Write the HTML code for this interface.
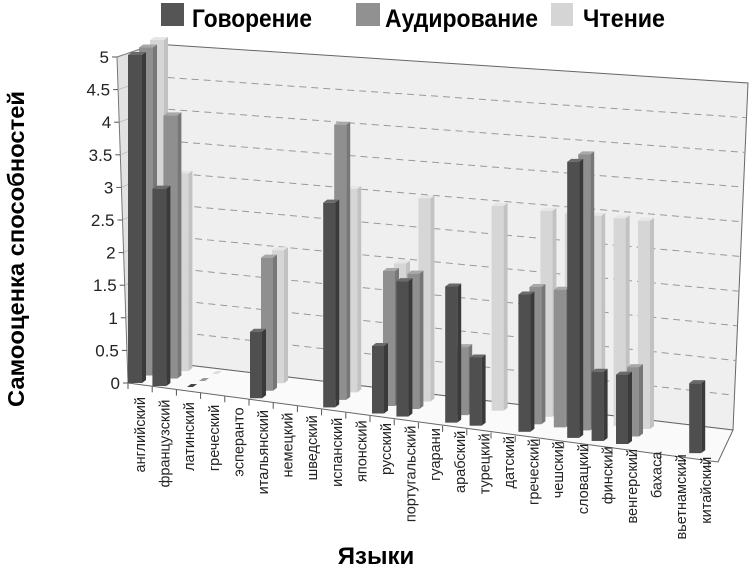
<!DOCTYPE html>
<html><head><meta charset="utf-8"><style>
html,body{margin:0;padding:0;background:#fff;}
svg{display:block;font-family:"Liberation Sans",sans-serif;}
</style></head><body>
<svg id="s" width="749" height="570" viewBox="0 0 749 570" xmlns="http://www.w3.org/2000/svg">
<polygon points="117,57 155,44 162,362 128,383" fill="#e2e2e2" stroke="#777" stroke-width="1"/>
<polygon points="155,44 748,83 733,430 162,362" fill="#efefef" stroke="#666" stroke-width="1"/>
<polygon points="128,383 162,362 733,430 718,462" fill="#fafafa" stroke="#666" stroke-width="1"/>
<g id="grid"></g>
<g id="bars"></g>
<g id="labels" font-size="14.5" fill="#222"></g>
<rect x="161" y="3" width="23" height="23" fill="#555"/>
<text x="192" y="27" font-size="25" font-weight="bold" font-family="'Liberation Sans Narrow','Liberation Sans',sans-serif" textLength="120" lengthAdjust="spacingAndGlyphs">Говорение</text>
<rect x="356" y="3" width="24" height="23" fill="#919191"/>
<text x="385" y="27" font-size="25" font-weight="bold" font-family="'Liberation Sans Narrow','Liberation Sans',sans-serif" textLength="153" lengthAdjust="spacingAndGlyphs">Аудирование</text>
<rect x="551" y="3" width="22" height="23" fill="#d5d5d5"/>
<text x="583" y="27" font-size="25" font-weight="bold" font-family="'Liberation Sans Narrow','Liberation Sans',sans-serif" textLength="82" lengthAdjust="spacingAndGlyphs">Чтение</text>
<text transform="translate(24,249) rotate(-90)" text-anchor="middle" font-size="23" font-weight="bold" textLength="316" lengthAdjust="spacingAndGlyphs">Самооценка способностей</text>
<text x="376" y="564" text-anchor="middle" font-size="24" font-weight="bold">Языки</text>
</svg>
<script>
const NS="http://www.w3.org/2000/svg";
function el(p,t,a,txt){const e=document.createElementNS(NS,t);for(const k in a)e.setAttribute(k,a[k]);if(txt!==undefined)e.textContent=txt;p.appendChild(e);return e;}
const grid=document.getElementById('grid'),bars=document.getElementById('bars'),labs=document.getElementById('labels');
const svg=document.getElementById('s');
for(let k=0;k<=10;k++){
  const v=k*0.5;
  const yl=362-v*63.4, yr=430-v*69.4;
  const ya=383-v*65.2, xa=128-v*2.2;
  const xb=162-v*1.4;
  if(k>0&&k<10){
    el(grid,'line',{x1:xb,y1:yl,x2:733+v*3,y2:yr,stroke:'#999','stroke-dasharray':'7,5','stroke-width':1});
    el(grid,'line',{x1:xa,y1:ya,x2:xb,y2:yl,stroke:'#bbb','stroke-width':0.8});
  }
  el(grid,'line',{x1:xa-5,y1:ya,x2:xa,y2:ya,stroke:'#555'});
  el(svg,'text',{x:xa-8,y:ya+6,'text-anchor':'end','font-size':17,fill:'#222'},String(v));
}
for(let i=0;i<=24;i++){
  const x=128+24.2*i, y=383+3.3*i;
  el(grid,'line',{x1:x,y1:y,x2:x,y2:y+6,stroke:'#555'});
}
const names=["английский","французский","латинский","греческий","эсперанто","итальянский","немецкий","шведский","испанский","японский","русский","португальский","гуарани","арабский","турецкий","датский","греческий","чешский","словацкий","финский","венгерский","бахаса","вьетнамский","китайский"];
names.forEach((n,i)=>{
  const x=145+24.6*i, y=397+2.6*i;
  el(labs,'text',{transform:`translate(${x},${y}) rotate(-90)`,'text-anchor':'end'},n);
});
const D={0:[5,5,5],1:[3,4,3],5:[1,2,2],8:[3.05,4.1,3.03],10:[1,2,2],11:[2,2,3],13:[2,1,0],14:[1,0,3],16:[2,2,3],17:[0,2,3],18:[4,4,3],19:[1,0,3],20:[1,1,3],23:[1,0,0]};
const cols=[["#4f4f4f","#3a3a3a","#6a6a6a"],["#8f8f8f","#777","#a8a8a8"],["#d6d6d6","#c2c2c2","#e6e6e6"]];
for(let s=2;s>=0;s--){
  for(let i=0;i<24;i++){
    const v=D[i]?D[i][s]:0;
    if(!v)continue;
    const w=i<2?14:12;
    const bx=128+24.4*i+11*s, by=383+3.05*i-7.5*s;
    const h=v*(65.6+0.19*i);
    const [f,sd,tp]=cols[s];
    const dx=4,dy=-3;
    el(bars,'polygon',{points:`${bx+w},${by} ${bx+w+dx},${by+dy} ${bx+w+dx},${by-h+dy} ${bx+w},${by-h}`,fill:sd});
    el(bars,'polygon',{points:`${bx},${by-h} ${bx+dx},${by-h+dy} ${bx+w+dx},${by-h+dy} ${bx+w},${by-h}`,fill:tp});
    el(bars,'rect',{x:bx,y:by-h,width:w,height:h,fill:f});
  }
}
[[187,387,"#444"],[199,381,"#999"],[212,374,"#ddd"]].forEach(([x,y,c])=>{
  el(bars,'polygon',{points:`${x},${y} ${x+4},${y-3} ${x+10},${y-3} ${x+6},${y}`,fill:c});
});
</script>
</body></html>
